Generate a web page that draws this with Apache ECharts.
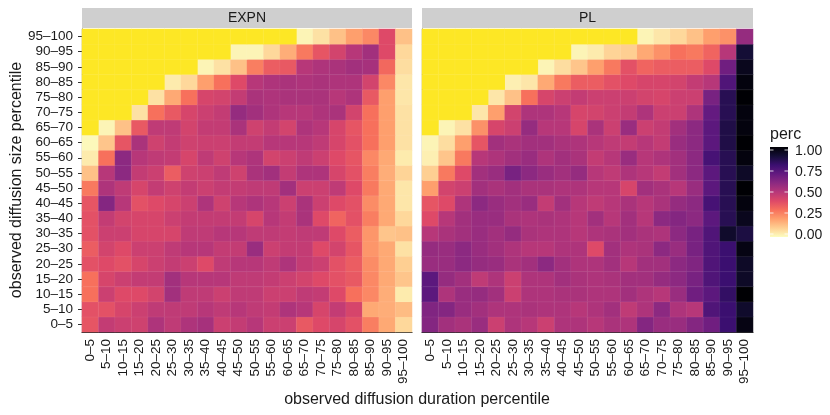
<!DOCTYPE html>
<html>
<head>
<meta charset="utf-8">
<script src="https://cdn.jsdelivr.net/npm/echarts@6/dist/echarts.min.js"></script>
<style>
  html, body { margin: 0; padding: 0; background: #fff; }
  #chart { width: 830px; height: 415px; }
</style>
</head>
<body>
<div id="chart"></div>
<script>
// percentile bins, used on both axes
const bins = ['0–5', '5–10', '10–15', '15–20', '20–25', '25–30', '30–35', '35–40', '40–45', '45–50',
  '50–55', '55–60', '60–65', '65–70', '70–75', '75–80', '80–85', '85–90', '90–95', '95–100']
const panels = ['EXPN', 'PL']
const legendTicks = [0, 0.25, 0.5, 0.75, 1]
const _ = null // no data

// rows from size 0–5 (bottom) up to 95–100 (top), columns are duration bins
const expnRows = [
  [0.37, 0.47, 0.45, 0.44, 0.52, 0.48, 0.52, 0.54, 0.45, 0.47, 0.50, 0.45, 0.45, 0.36, 0.40, 0.42, 0.38, 0.27, 0.18, 0.08],
  [0.38, 0.38, 0.42, 0.45, 0.48, 0.48, 0.48, 0.50, 0.48, 0.50, 0.48, 0.47, 0.52, 0.50, 0.42, 0.47, 0.42, 0.18, 0.17, 0.14],
  [0.30, 0.45, 0.40, 0.40, 0.43, 0.55, 0.48, 0.48, 0.45, 0.48, 0.48, 0.45, 0.45, 0.48, 0.47, 0.40, 0.30, 0.25, 0.17, 0.04],
  [0.30, 0.42, 0.45, 0.47, 0.47, 0.55, 0.50, 0.50, 0.50, 0.48, 0.48, 0.47, 0.45, 0.43, 0.40, 0.38, 0.36, 0.25, 0.18, 0.12],
  [0.38, 0.40, 0.38, 0.42, 0.45, 0.47, 0.45, 0.40, 0.48, 0.50, 0.50, 0.48, 0.52, 0.47, 0.45, 0.38, 0.35, 0.24, 0.18, 0.10],
  [0.35, 0.43, 0.40, 0.45, 0.45, 0.48, 0.50, 0.50, 0.47, 0.47, 0.57, 0.45, 0.47, 0.47, 0.40, 0.43, 0.37, 0.22, 0.18, 0.06],
  [0.38, 0.45, 0.45, 0.42, 0.42, 0.42, 0.48, 0.48, 0.50, 0.50, 0.48, 0.48, 0.47, 0.48, 0.48, 0.40, 0.35, 0.22, 0.12, 0.13],
  [0.38, 0.47, 0.43, 0.42, 0.42, 0.45, 0.47, 0.47, 0.47, 0.47, 0.42, 0.50, 0.47, 0.53, 0.40, 0.33, 0.38, 0.27, 0.18, 0.08],
  [0.37, 0.62, 0.50, 0.38, 0.40, 0.42, 0.45, 0.52, 0.44, 0.50, 0.52, 0.50, 0.45, 0.53, 0.45, 0.40, 0.38, 0.24, 0.18, 0.05],
  [0.28, 0.52, 0.48, 0.42, 0.47, 0.44, 0.47, 0.45, 0.47, 0.47, 0.48, 0.48, 0.55, 0.45, 0.45, 0.48, 0.40, 0.28, 0.18, 0.05],
  [0.13, 0.50, 0.60, 0.47, 0.45, 0.35, 0.44, 0.45, 0.48, 0.44, 0.53, 0.55, 0.47, 0.52, 0.52, 0.42, 0.38, 0.27, 0.17, 0.09],
  [0.04, 0.30, 0.60, 0.50, 0.48, 0.47, 0.42, 0.48, 0.44, 0.50, 0.52, 0.43, 0.45, 0.48, 0.45, 0.40, 0.37, 0.25, 0.18, 0.04],
  [0.01, 0.12, 0.37, 0.53, 0.44, 0.47, 0.44, 0.45, 0.45, 0.47, 0.47, 0.50, 0.50, 0.50, 0.48, 0.42, 0.38, 0.30, 0.20, 0.06],
  [_, 0.02, 0.13, 0.36, 0.48, 0.48, 0.43, 0.47, 0.47, 0.53, 0.44, 0.47, 0.43, 0.52, 0.50, 0.42, 0.37, 0.30, 0.20, 0.06],
  [_, _, _, 0.06, 0.30, 0.36, 0.42, 0.45, 0.47, 0.58, 0.55, 0.52, 0.50, 0.50, 0.52, 0.53, 0.43, 0.30, 0.20, 0.06],
  [_, _, _, _, 0.06, 0.18, 0.30, 0.42, 0.43, 0.47, 0.53, 0.52, 0.53, 0.53, 0.53, 0.50, 0.52, 0.36, 0.20, 0.05],
  [_, _, _, _, _, 0.04, 0.08, 0.20, 0.30, 0.40, 0.50, 0.52, 0.53, 0.52, 0.53, 0.52, 0.52, 0.43, 0.25, 0.05],
  [_, _, _, _, _, _, _, 0.02, 0.06, 0.13, 0.27, 0.35, 0.36, 0.50, 0.52, 0.53, 0.55, 0.54, 0.32, 0.07],
  [_, _, _, _, _, _, _, _, _, 0.02, 0.02, 0.08, 0.17, 0.28, 0.37, 0.43, 0.50, 0.55, 0.40, 0.08],
  [_, _, _, _, _, _, _, _, _, _, _, _, _, 0.02, 0.06, 0.13, 0.20, 0.25, 0.40, 0.13]
]

const plRows = [
  [0.62, 0.55, 0.53, 0.57, 0.45, 0.52, 0.50, 0.45, 0.52, 0.52, 0.50, 0.53, 0.52, 0.62, 0.57, 0.57, 0.62, 0.67, 0.80, 0.97],
  [0.63, 0.62, 0.57, 0.55, 0.52, 0.52, 0.53, 0.52, 0.52, 0.50, 0.52, 0.55, 0.48, 0.52, 0.60, 0.52, 0.50, 0.75, 0.80, 0.92],
  [0.72, 0.52, 0.57, 0.58, 0.55, 0.45, 0.52, 0.52, 0.53, 0.53, 0.52, 0.52, 0.55, 0.52, 0.50, 0.57, 0.67, 0.72, 0.82, 1.00],
  [0.72, 0.58, 0.55, 0.48, 0.52, 0.45, 0.52, 0.52, 0.55, 0.53, 0.52, 0.53, 0.55, 0.55, 0.58, 0.60, 0.65, 0.75, 0.80, 0.93],
  [0.57, 0.57, 0.60, 0.58, 0.57, 0.53, 0.55, 0.60, 0.55, 0.52, 0.52, 0.55, 0.50, 0.55, 0.55, 0.60, 0.63, 0.75, 0.80, 0.93],
  [0.58, 0.57, 0.60, 0.57, 0.55, 0.52, 0.50, 0.50, 0.52, 0.52, 0.40, 0.55, 0.52, 0.53, 0.60, 0.57, 0.65, 0.75, 0.80, 0.97],
  [0.50, 0.53, 0.55, 0.57, 0.55, 0.58, 0.53, 0.52, 0.52, 0.50, 0.52, 0.53, 0.55, 0.53, 0.52, 0.60, 0.65, 0.75, 0.92, 0.88],
  [0.40, 0.50, 0.55, 0.57, 0.57, 0.53, 0.52, 0.53, 0.52, 0.50, 0.55, 0.50, 0.55, 0.50, 0.60, 0.62, 0.60, 0.72, 0.85, 0.95],
  [0.37, 0.40, 0.52, 0.60, 0.57, 0.55, 0.57, 0.47, 0.55, 0.50, 0.48, 0.50, 0.53, 0.50, 0.53, 0.58, 0.60, 0.77, 0.85, 0.98],
  [0.20, 0.43, 0.45, 0.55, 0.53, 0.55, 0.53, 0.53, 0.52, 0.52, 0.50, 0.50, 0.42, 0.55, 0.53, 0.50, 0.57, 0.72, 0.85, 1.00],
  [0.10, 0.28, 0.40, 0.55, 0.57, 0.65, 0.60, 0.57, 0.55, 0.58, 0.50, 0.48, 0.52, 0.50, 0.47, 0.55, 0.60, 0.72, 0.85, 0.93],
  [0.03, 0.12, 0.28, 0.50, 0.52, 0.55, 0.57, 0.52, 0.55, 0.53, 0.47, 0.50, 0.57, 0.50, 0.52, 0.55, 0.60, 0.77, 0.85, 0.98],
  [0.02, 0.07, 0.20, 0.37, 0.55, 0.53, 0.55, 0.55, 0.53, 0.52, 0.50, 0.48, 0.47, 0.50, 0.47, 0.57, 0.60, 0.72, 0.87, 1.00],
  [_, 0.02, 0.06, 0.23, 0.42, 0.45, 0.58, 0.50, 0.50, 0.42, 0.53, 0.45, 0.57, 0.45, 0.47, 0.55, 0.60, 0.72, 0.87, 0.98],
  [_, _, _, 0.05, 0.20, 0.43, 0.52, 0.52, 0.50, 0.42, 0.43, 0.45, 0.47, 0.52, 0.45, 0.45, 0.52, 0.70, 0.85, 0.98],
  [_, _, _, _, 0.05, 0.13, 0.30, 0.42, 0.45, 0.47, 0.45, 0.45, 0.45, 0.43, 0.42, 0.45, 0.45, 0.65, 0.85, 1.00],
  [_, _, _, _, _, 0.03, 0.05, 0.18, 0.28, 0.35, 0.35, 0.38, 0.40, 0.42, 0.42, 0.43, 0.47, 0.50, 0.75, 0.98],
  [_, _, _, _, _, _, _, 0.02, 0.07, 0.12, 0.20, 0.28, 0.38, 0.33, 0.35, 0.35, 0.35, 0.40, 0.67, 0.95],
  [_, _, _, _, _, _, _, _, _, 0.02, 0.04, 0.09, 0.10, 0.18, 0.23, 0.30, 0.28, 0.33, 0.50, 0.90],
  [_, _, _, _, _, _, _, _, _, _, _, _, _, 0.02, 0.05, 0.08, 0.13, 0.20, 0.23, 0.58]
]

// magma, reversed (0 = pale, 1 = black)
const magmaRev = ['#FCFDBF', '#FECF92', '#FE9F6D', '#F7705C', '#DE4968', '#B73779',
  '#8C2981', '#641A80', '#3B0F70', '#140E36', '#000004']
const naColor = '#FDE725'

function split (rows) {
  const vals = []
  const na = []
  rows.forEach((row, y) => {
    row.forEach((v, x) => {
      if (v === null) na.push([x, y, 0])
      else vals.push([x, y, v])
    })
  })
  return { vals, na }
}
const expn = split(expnRows)
const pl = split(plRows)

const font = 'Liberation Sans, Arial, sans-serif'
const ink = '#1a1a1a'
const grids = [
  { left: 82, top: 29, width: 330, height: 303 },
  { left: 422, top: 29, width: 331, height: 303 }
]

const xAxes = grids.map((g, i) => ({
  type: 'category',
  gridIndex: i,
  data: bins,
  axisLine: { lineStyle: { color: '#222', width: 1.2 } },
  axisTick: { alignWithLabel: true, length: 4, lineStyle: { color: '#333' } },
  axisLabel: { interval: 0, rotate: 90, margin: 7, fontSize: 13.5, color: ink, fontFamily: font },
  splitLine: { show: false }
}))
const yAxes = grids.map((g, i) => ({
  type: 'category',
  gridIndex: i,
  data: bins,
  axisLine: { lineStyle: { color: '#222', width: 1.2 } },
  axisTick: { show: i === 0, alignWithLabel: true, length: 4, lineStyle: { color: '#333' } },
  axisLabel: { show: i === 0, interval: 0, margin: 9, fontSize: 13.5, color: ink, fontFamily: font },
  splitLine: { show: false }
}))

const cellStyle = { borderColor: 'rgba(255,255,255,0.12)', borderWidth: 0.5 }
function heat (data, i) {
  return { type: 'heatmap', xAxisIndex: i, yAxisIndex: i, data, itemStyle: cellStyle, emphasis: { disabled: true } }
}
function naHeat (data, i) {
  return { type: 'heatmap', xAxisIndex: i, yAxisIndex: i, data, itemStyle: Object.assign({ color: naColor }, cellStyle), emphasis: { disabled: true } }
}

// legend colour bar
const barTop = 147
const barH = 90
const barX = 770
const barW = 18
const tickY = v => 234 - v * 84
const legendGraphics = [
  { type: 'text', x: 770, y: 135, style: { text: 'perc', fontSize: 16, fill: ink, fontFamily: font, verticalAlign: 'middle' } },
  {
    type: 'rect',
    shape: { x: barX, y: barTop, width: barW, height: barH },
    style: {
      fill: new echarts.graphic.LinearGradient(0, 1, 0, 0,
        magmaRev.map((c, k) => ({ offset: k / (magmaRev.length - 1), color: c })))
    }
  }
]
legendTicks.forEach(v => {
  const y = tickY(v)
  legendGraphics.push(
    { type: 'line', shape: { x1: barX, y1: y, x2: barX + 3.5, y2: y }, style: { stroke: 'rgba(255,255,255,0.8)', lineWidth: 1 } },
    { type: 'line', shape: { x1: barX + barW - 3.5, y1: y, x2: barX + barW, y2: y }, style: { stroke: 'rgba(255,255,255,0.8)', lineWidth: 1 } },
    { type: 'text', x: 795, y: y + 1, style: { text: v.toFixed(2), fontSize: 14, fill: ink, fontFamily: font, verticalAlign: 'middle' } }
  )
})

const stripGraphics = []
panels.forEach((p, i) => {
  const g = grids[i]
  stripGraphics.push(
    { type: 'rect', shape: { x: g.left, y: 8, width: g.width, height: 20 }, style: { fill: '#CFCFCF' } },
    { type: 'text', x: g.left + g.width / 2, y: 18.5, style: { text: p, fontSize: 14, fill: ink, fontFamily: font, align: 'center', verticalAlign: 'middle' } }
  )
})

const chart = echarts.init(document.getElementById('chart'), null, { renderer: 'canvas' })
chart.setOption({
  animation: false,
  backgroundColor: '#fff',
  grid: grids,
  xAxis: xAxes,
  yAxis: yAxes,
  visualMap: {
    show: false,
    type: 'continuous',
    min: 0,
    max: 1,
    dimension: 2,
    seriesIndex: [0, 1],
    inRange: { color: magmaRev }
  },
  series: [
    heat(expn.vals, 0),
    heat(pl.vals, 1),
    naHeat(expn.na, 0),
    naHeat(pl.na, 1)
  ],
  graphic: stripGraphics.concat(legendGraphics, [
    { type: 'text', x: 417, y: 400, style: { text: 'observed diffusion duration percentile', fontSize: 16, fill: ink, fontFamily: font, align: 'center', verticalAlign: 'middle' } },
    { type: 'text', x: 17, y: 180, rotation: Math.PI / 2, style: { text: 'observed diffusion size percentile', fontSize: 16, fill: ink, fontFamily: font, align: 'center', verticalAlign: 'middle' } }
  ])
})
</script>
</body>
</html>
